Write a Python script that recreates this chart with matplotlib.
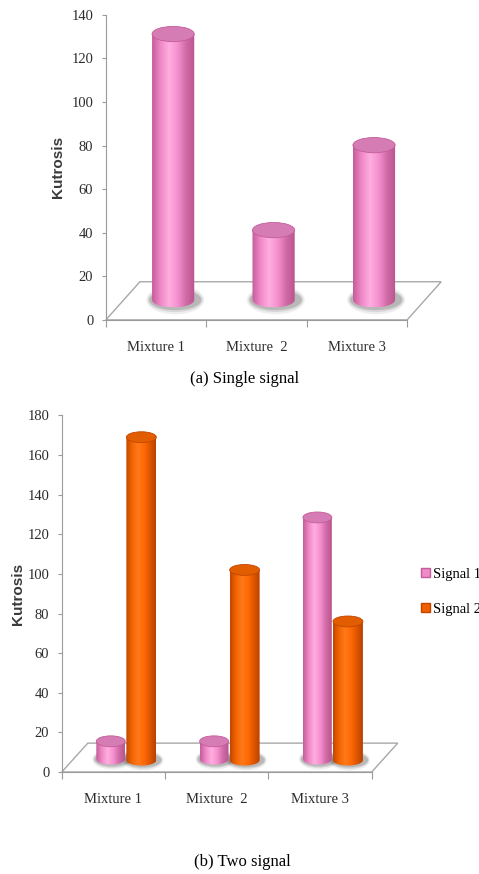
import numpy as np
import matplotlib
matplotlib.use("Agg")
import matplotlib.pyplot as plt
from matplotlib.colors import LinearSegmentedColormap
from matplotlib.patches import Ellipse, Polygon, Patch

# Kurtosis values (column heights above the floor)
mixtures = ["Mixture 1", "Mixture  2", "Mixture 3"]
single_signal = [122, 32, 71]
signal_1 = [9, 9, 122]
signal_2 = [163, 96, 70]
series_names = ["Signal 1", "Signal 2"]

top_ticks = [0, 20, 40, 60, 80, 100, 120, 140]
bottom_ticks = [0, 20, 40, 60, 80, 100, 120, 140, 160, 180]

PINK = dict(shade=["#c45c99", "#f088c8", "#ffaedf", "#f590cf", "#d06aa6", "#b8558f"],
            cap="#d67cb5", base="#f08ac8")
ORANGE = dict(shade=["#c24600", "#f26400", "#ff7a1a", "#ff6a05", "#dd5500", "#b84200"],
              cap="#e25c00", base="#f06000")

TICK_FONT = dict(family="Liberation Serif", size=10.5, color="#2c2c2c")
GREY = "#9a9a9a"


def cylinder(ax, rect, style, cap_h):
    """Paint a shaded cylinder over a bar rectangle."""
    x0, y0 = rect.get_x(), rect.get_y()
    w, h = rect.get_width(), rect.get_height()
    x1, y1 = x0 + w, y0 + h
    cx = x0 + w / 2

    # soft shadow on the floor
    for k, a in [(1.9, 0.10), (1.6, 0.16), (1.35, 0.25)]:
        ax.add_patch(Ellipse((cx + w * 0.05, y0), w * (0.9 + k * 0.25), cap_h * k,
                             facecolor="#5f5f5f", edgecolor="none", alpha=a, zorder=2.5))

    # outline of the body: straight sides plus the rounded bottom
    t = np.linspace(np.pi, 2 * np.pi, 40)
    arc = np.column_stack([cx + w / 2 * np.cos(t), y0 + cap_h / 2 * np.sin(t)])
    body = np.vstack([[x0, y1], arc, [x1, y1]])
    outline = Polygon(body, closed=True, facecolor="none", edgecolor="none", zorder=3)
    ax.add_patch(outline)

    cmap = LinearSegmentedColormap.from_list("cyl", style["shade"])
    grad = np.linspace(0, 1, 256).reshape(1, -1)
    im = ax.imshow(grad, extent=[x0, x1, y0 - cap_h / 2, y1], aspect="auto",
                   cmap=cmap, zorder=3, interpolation="bicubic")
    im.set_clip_path(outline)

    ax.add_patch(Ellipse((cx, y1), w, cap_h, facecolor=style["cap"],
                         edgecolor=style["shade"][0], linewidth=0.6, zorder=4))


def draw_floor(ax, dx, dy):
    floor = Polygon([(0, 0), (1, 0), (1 + dx, dy), (dx, dy)], closed=True,
                    transform=ax.transAxes, facecolor="white", edgecolor="#a8a8a8",
                    linewidth=1.0, clip_on=False, zorder=1)
    ax.add_patch(floor)


def style_axes(ax, yticks, ymax):
    ax.set_xlim(-0.5, 2.5)
    ax.set_ylim(0, ymax)
    for s in ("top", "right"):
        ax.spines[s].set_visible(False)
    ax.spines["left"].set_color(GREY)
    ax.spines["bottom"].set_color(GREY)
    ax.set_yticks(yticks)
    ax.set_yticklabels([str(v) for v in yticks], **TICK_FONT)
    ax.tick_params(axis="y", colors=GREY, length=3, width=0.8, pad=6)
    ax.set_xticks(range(len(mixtures)))
    ax.set_xticklabels(mixtures, **TICK_FONT)
    ax.tick_params(axis="x", length=0, pad=15)
    ax.set_xticks([-0.5, 0.5, 1.5, 2.5], minor=True)
    ax.tick_params(axis="x", which="minor", colors=GREY, length=5, width=0.8)
    for lab in ax.get_yticklabels() + ax.get_xticklabels():
        lab.set_color("#2c2c2c")
    ax.set_ylabel("Kutrosis", family="Liberation Sans", weight="bold", size=11,
                  color="#3a3a3a")


fig = plt.figure(figsize=(4.79, 8.74), dpi=100)

# (a) single signal
ax1 = fig.add_axes([0.221, 0.634, 0.629, 0.349])
draw_floor(ax1, 0.113, 0.125)
x = np.arange(len(mixtures))
bars = ax1.bar(x + 0.17, single_signal, 0.42, bottom=9.2, color="none", linewidth=0)
for r in bars:
    cylinder(ax1, r, PINK, 7.0)
style_axes(ax1, top_ticks, 140)
ax1.yaxis.set_label_coords(-0.135, 0.5)

# (b) two signals
ax2 = fig.add_axes([0.129, 0.1167, 0.647, 0.408])
draw_floor(ax2, 0.084, 0.081)
bars1 = ax2.bar(x - 0.026, signal_1, 0.28, bottom=6.5, color="none", linewidth=0)
bars2 = ax2.bar(x + 0.27, signal_2, 0.29, bottom=6.0, color="none", linewidth=0)
for r in bars1:
    cylinder(ax2, r, PINK, 5.5)
for r in bars2:
    cylinder(ax2, r, ORANGE, 5.5)
style_axes(ax2, bottom_ticks, 180)
ax2.yaxis.set_label_coords(-0.12, 0.5)

handles = [Patch(facecolor=PINK["base"], edgecolor=PINK["shade"][0]),
           Patch(facecolor=ORANGE["base"], edgecolor=ORANGE["shade"][0])]
ax2.legend(handles, series_names, loc="center left", bbox_to_anchor=(1.14, 0.505),
           frameon=False, handlelength=0.6, handleheight=0.6, handletextpad=0.2,
           labelspacing=1.5, borderaxespad=0.0,
           prop=dict(family="Liberation Serif", size=10.5))

fig.text(0.51, 1 - 379 / 874, "(a) Single signal", ha="center", va="center",
         family="Liberation Serif", size=12)
fig.text(0.507, 1 - 862 / 874, "(b) Two signal", ha="center", va="center",
         family="Liberation Serif", size=12)

fig.savefig("out.png", dpi=100)
